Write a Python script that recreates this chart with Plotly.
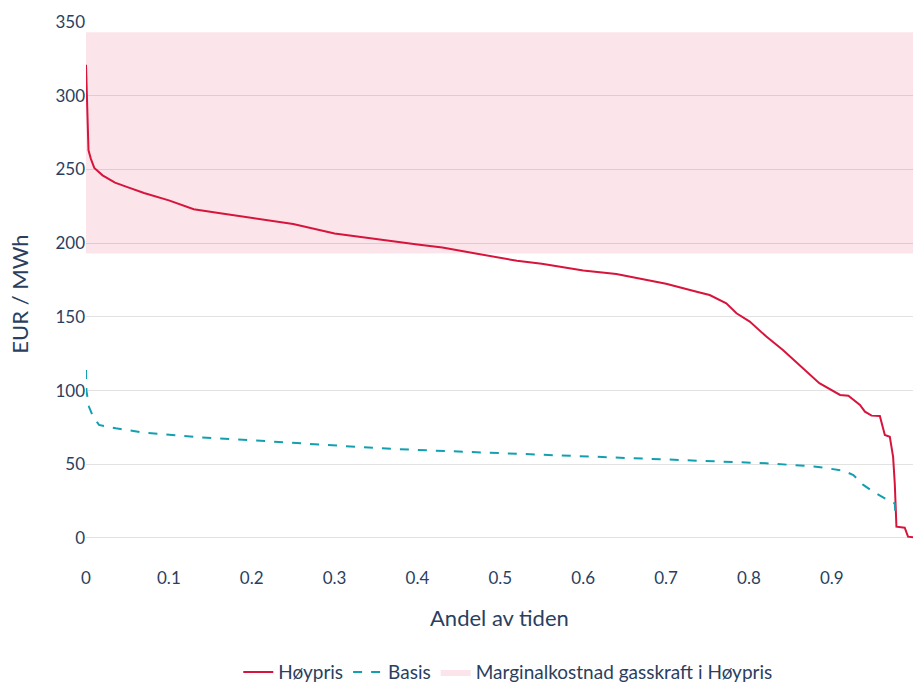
import plotly.graph_objects as go

# Høypris (high price scenario) duration curve
hoy_x = [0, 0.001, 0.002, 0.003, 0.006, 0.01, 0.02, 0.035, 0.05, 0.07, 0.1, 0.13, 0.16,
         0.2, 0.23, 0.25, 0.3, 0.35, 0.4, 0.43, 0.45, 0.5, 0.52, 0.55, 0.6, 0.64, 0.67,
         0.7, 0.7405, 0.7526, 0.7727, 0.785, 0.801, 0.821, 0.841, 0.861, 0.885, 0.91,
         0.92, 0.934, 0.94, 0.948, 0.958, 0.964, 0.97, 0.974, 0.976, 0.978, 0.988,
         0.992, 0.998]
hoy_y = [321, 300, 275, 263, 257, 251, 246, 241, 238, 234, 229, 223, 220.5,
         217, 214.5, 213, 206.5, 202.5, 199, 197, 195, 189.5, 188, 186, 181.5, 179, 176,
         172.5, 166.5, 164.8, 159.2, 152.4, 146.8, 136.6, 127.5, 117.4, 105, 97,
         96.5, 90.2, 85.7, 83, 82.8, 69.9, 68.7, 55, 37, 7.7, 7,
         0.9, 0.5]

# Basis duration curve
basis_x = [0, 0.0005, 0.0036, 0.008, 0.0157, 0.036, 0.07, 0.1365, 0.2, 0.257, 0.3, 0.35,
           0.4, 0.5, 0.6, 0.7405, 0.821, 0.881, 0.914, 0.926, 0.938, 0.95, 0.966,
           0.976, 0.977]
basis_y = [114, 100, 89, 83, 76.7, 74.4, 71.5, 68.3, 66.3, 64.2, 62.8, 61,
           59.7, 57.7, 55.6, 52.4, 50.7, 48.4, 45.7, 42.7, 36, 31.4, 26.2,
           23.5, 13]

# Marginal cost band for gas power in Høypris
band_low = 193
band_high = 343
x_range = [0, 0.998]
y_range = [-19, 350]

band_x = [x_range[0], x_range[1], x_range[1], x_range[0], x_range[0]]
band_y = [band_low, band_low, band_high, band_high, band_low]

fig = go.Figure()
fig.add_trace(go.Scatter(
    x=band_x, y=band_y, mode="lines", fill="toself",
    fillcolor="rgba(220,20,60,0.11)", line=dict(width=0, color="rgba(220,20,60,0.11)"),
    name="Marginalkostnad gasskraft i Høypris", legendrank=3, hoverinfo="skip"))
fig.add_trace(go.Scatter(
    x=hoy_x, y=hoy_y, mode="lines", name="Høypris",
    line=dict(color="#d7143c", width=2), legendrank=1))
fig.add_trace(go.Scatter(
    x=basis_x, y=basis_y, mode="lines", name="Basis",
    line=dict(color="#12a0b0", width=2, dash="dash"), legendrank=2))

fig.update_layout(
    width=913, height=682,
    margin=dict(l=86, r=0, t=22, b=116, autoexpand=False),
    paper_bgcolor="white", plot_bgcolor="white",
    font=dict(family="Lato, sans-serif", size=17, color="#2a3f5f"),
    legend=dict(orientation="h", x=0.51, xanchor="center", y=-0.195, yanchor="middle",
                font=dict(size=19)),
    xaxis=dict(range=x_range, dtick=0.1, showgrid=False, zeroline=False,
               automargin=False, tickfont=dict(size=17)),
    yaxis=dict(range=y_range, dtick=50, gridcolor="#e2e2e2", gridwidth=1,
               zeroline=False, automargin=False,
               title=dict(text="EUR / MWh", font=dict(size=22), standoff=20),
               tickfont=dict(size=17)),
    annotations=[dict(text="Andel av tiden", xref="paper", yref="paper",
                      x=0.5, y=-0.094, xanchor="center", yanchor="middle",
                      showarrow=False, font=dict(size=22))],
)

fig.write_html("out.html", config={"displayModeBar": False},
               post_script="document.body.style.margin='0';")
